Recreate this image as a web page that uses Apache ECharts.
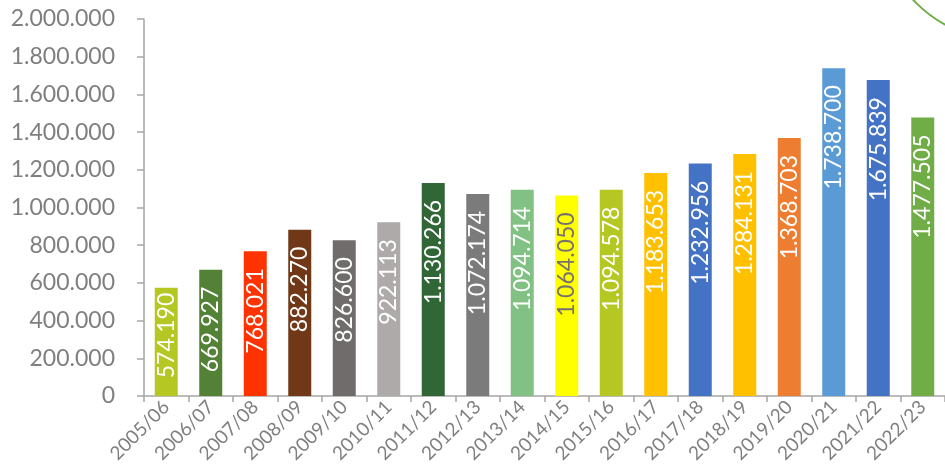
<!DOCTYPE html>
<html><head><meta charset="utf-8">
<script src="https://cdn.jsdelivr.net/npm/echarts@6/dist/echarts.min.js"></script>
<style>html,body{margin:0;padding:0;background:#fff}#c{width:945px;height:475px}</style>
</head><body><div id="c"></div>
<script>
const categories = ['2005/06','2006/07','2007/08','2008/09','2009/10','2010/11','2011/12','2012/13','2013/14','2014/15','2015/16','2016/17','2017/18','2018/19','2019/20','2020/21','2021/22','2022/23'];
const values = [574190,669927,768021,882270,826600,922113,1130266,1072174,1094714,1064050,1094578,1183653,1232956,1284131,1368703,1738700,1675839,1477505];
const barColors = ['#b5c722','#538135','#ff3300','#703816','#706c6b','#aeaaaa','#316637','#7b7b7b','#82c184','#ffff00','#b5c722','#ffc000','#4472c4','#ffc000','#ed7d31','#5b9bd5','#4472c4','#70ad47'];
const labelColors = ['#fff','#fff','#fff','#fff','#fff','#fff','#fff','#fff','#fff','#767171','#fff','#fff','#fff','#fff','#fff','#fff','#fff','#fff'];
const labelDistances = [5,17,17,17,17,17,17,17,17,17,17,17,17,17,17,17,17,17];

const fmt = v => String(v).replace(/\B(?=(\d{3})+(?!\d))/g, '.');
const chart = echarts.init(document.getElementById('c'));
chart.setOption({
  animation: false,
  grid: {left: 144, right: -4, top: 19, bottom: 79, containLabel: false},
  xAxis: {
    type: 'category', data: categories,
    axisLine: {lineStyle: {color: '#a6a6a6', width: 1.5}},
    axisTick: {show: true, length: 6, lineStyle: {color: '#a6a6a6', width: 1.5}},
    axisLabel: {rotate: 45, color: '#7f7f7f', fontSize: 19, fontFamily: 'Lato', margin: 8, interval: 0}
  },
  yAxis: {
    type: 'value', min: 0, max: 2000000, interval: 200000,
    axisLine: {show: true, lineStyle: {color: '#a6a6a6', width: 1.5}},
    axisTick: {show: true, length: 7, lineStyle: {color: '#a6a6a6', width: 1.5}},
    splitLine: {show: false},
    axisLabel: {color: '#7f7f7f', fontSize: 23, fontFamily: 'Lato', margin: 29, formatter: fmt}
  },
  series: [{
    type: 'bar', barWidth: 23,
    data: values.map((v, i) => ({
      value: v,
      itemStyle: {color: barColors[i]},
      label: {color: labelColors[i], distance: labelDistances[i]}
    })),
    label: {
      show: true, position: 'insideTop', rotate: 90, align: 'right', verticalAlign: 'middle',
      fontSize: 23, fontFamily: 'Lato', formatter: p => fmt(p.value)
    }
  }],
  graphic: [{
    type: 'circle', shape: {cx: 1005, cy: -85, r: 125},
    style: {fill: 'none', stroke: '#70ad47', lineWidth: 2}
  }]
});
</script></body></html>
